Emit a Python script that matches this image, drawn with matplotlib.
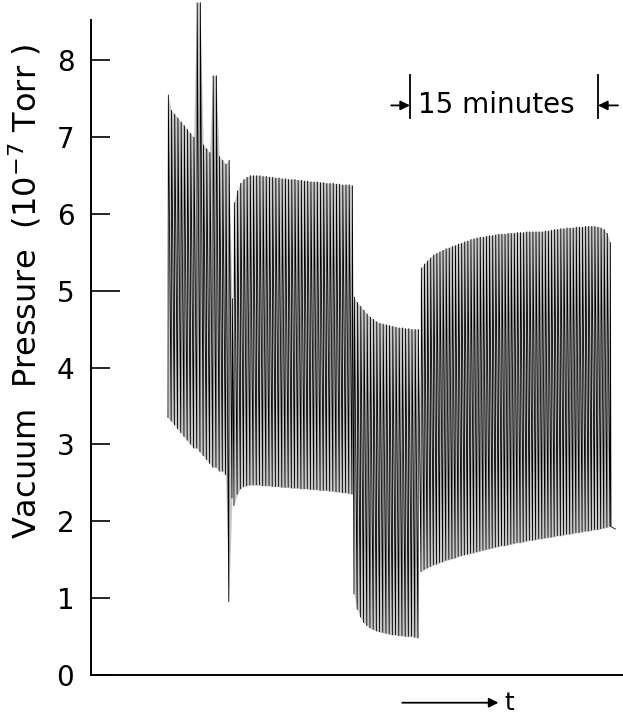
import numpy as np
import matplotlib
matplotlib.use("Agg")
import matplotlib.pyplot as plt

# ---- data (minutes on x, 1e-7 Torr on y) ----
seg_bounds = [(6.16, 11.28), (11.44, 20.88), (21.04, 26.16), (26.40, 41.52)]

high1 = [7.55, 7.35, 7.30, 7.25, 7.20, 7.15, 7.10, 7.05, 7.00, 8.75, 8.75,
         6.90, 6.85, 6.80, 7.80, 7.80, 6.75, 6.70, 6.65, 6.70, 4.90]
low1 = [3.35, 3.30, 3.25, 3.20, 3.15, 3.10, 3.05, 3.00, 2.95, 2.95, 2.90,
        2.85, 2.80, 2.75, 2.70, 2.70, 2.65, 2.65, 2.60, 0.95, 2.30]

high2 = [6.15, 6.30, 6.40, 6.45, 6.48, 6.50, 6.50, 6.50, 6.50, 6.49,
         6.49, 6.48, 6.48, 6.47, 6.47, 6.46, 6.46, 6.45, 6.45, 6.45,
         6.44, 6.44, 6.43, 6.43, 6.42, 6.42, 6.42, 6.41, 6.41, 6.40,
         6.40, 6.40, 6.39, 6.39, 6.38, 6.38, 6.38, 6.37]
low2 = [2.20, 2.35, 2.42, 2.45, 2.46, 2.47, 2.47, 2.47, 2.47, 2.46,
        2.46, 2.46, 2.45, 2.45, 2.45, 2.44, 2.44, 2.44, 2.43, 2.43,
        2.43, 2.42, 2.42, 2.42, 2.41, 2.41, 2.41, 2.40, 2.40, 2.40,
        2.39, 2.39, 2.38, 2.38, 2.37, 2.37, 2.36, 2.35]

high3 = [4.92, 4.85, 4.80, 4.75, 4.70, 4.66, 4.63, 4.60, 4.58, 4.57, 4.56,
         4.55, 4.54, 4.53, 4.52, 4.52, 4.51, 4.51, 4.50, 4.50, 4.50]
low3 = [1.05, 0.85, 0.75, 0.68, 0.64, 0.61, 0.59, 0.57, 0.56, 0.55, 0.54,
        0.53, 0.52, 0.52, 0.51, 0.51, 0.50, 0.50, 0.50, 0.49, 0.48]

high4 = [5.30, 5.35, 5.39, 5.43, 5.47, 5.49, 5.51, 5.53, 5.55, 5.56,
         5.58, 5.59, 5.61, 5.62, 5.64, 5.65, 5.67, 5.68, 5.69, 5.70,
         5.70, 5.71, 5.72, 5.72, 5.73, 5.74, 5.74, 5.74, 5.75, 5.75,
         5.75, 5.76, 5.76, 5.76, 5.77, 5.77, 5.77, 5.77, 5.77, 5.77,
         5.78, 5.78, 5.79, 5.80, 5.80, 5.81, 5.81, 5.82, 5.82, 5.82,
         5.83, 5.83, 5.83, 5.84, 5.84, 5.84, 5.84, 5.83, 5.82, 5.80,
         5.75, 5.63]
low4 = [1.34, 1.37, 1.39, 1.41, 1.43, 1.44, 1.46, 1.47, 1.49, 1.50,
        1.51, 1.52, 1.54, 1.55, 1.56, 1.57, 1.58, 1.59, 1.60, 1.61,
        1.62, 1.63, 1.64, 1.65, 1.66, 1.67, 1.68, 1.68, 1.69, 1.70,
        1.71, 1.72, 1.72, 1.73, 1.74, 1.75, 1.75, 1.76, 1.77, 1.77,
        1.78, 1.79, 1.79, 1.80, 1.81, 1.81, 1.82, 1.83, 1.83, 1.84,
        1.85, 1.85, 1.86, 1.87, 1.87, 1.88, 1.89, 1.89, 1.90, 1.91,
        1.92, 1.93]

tail_t = [41.60, 41.95]
tail_v = [1.93, 1.90]

yticks = [0, 1, 2, 3, 4, 5, 6, 7, 8]
ylabel = "Vacuum  Pressure  (10$^{-7}$ Torr )"
scale_label = "15 minutes"
scale_span = (25.52, 40.56)

highs = [high1, high2, high3, high4]
lows = [low1, low2, low3, low4]

# ---- figure ----
plt.rcParams['font.family'] = ['DejaVu Sans']
fig = plt.figure(figsize=(6.23, 7.15), dpi=100)
ax = fig.add_axes([0.146, 0.0559, 0.854, 0.916])

xs, ys = [], []
for (t0, t1), hi, lo in zip(seg_bounds, highs, lows):
    t = np.linspace(t0, t1, len(hi))
    per = (t1 - t0) / (len(hi) - 1)
    ax.fill_between(t, lo, hi, color='#c8c8c8', lw=0, clip_on=False)
    for ti, h, l in zip(t, hi, lo):
        xs += [ti, ti + 0.12 * per]
        ys += [l, h]
xs += tail_t
ys += tail_v
ax.plot(xs, ys, color='black', lw=0.6, clip_on=False, solid_joinstyle='miter')

ax.set_xlim(0, 42.56)
ax.set_ylim(0, 8.52)
ax.set_xticks([])
ax.set_yticks(yticks)
ax.set_yticklabels([str(v) for v in yticks], fontsize=20)
ax.tick_params(axis='y', direction='in', length=14, width=1.2, pad=12)
ax.yaxis.get_major_ticks()[5].tick1line.set_markersize(21)
for s in ['top', 'right']:
    ax.spines[s].set_visible(False)
for s in ['left', 'bottom']:
    ax.spines[s].set_linewidth(1.4)
ax.set_ylabel(ylabel, fontsize=23)
ax.yaxis.set_label_coords(-0.09, 0.585)

# 15 minutes scale bar
for xb in scale_span:
    ax.plot([xb, xb], [7.24, 7.80], color='black', lw=1.3, clip_on=False)
ax.annotate('', xy=(scale_span[0], 7.41), xytext=(scale_span[0] - 1.5, 7.41),
            arrowprops=dict(arrowstyle='-|>', color='black', lw=1.3,
                            mutation_scale=14, shrinkA=0, shrinkB=0),
            annotation_clip=False)
ax.annotate('', xy=(scale_span[1], 7.41), xytext=(scale_span[1] + 1.6, 7.41),
            arrowprops=dict(arrowstyle='-|>', color='black', lw=1.3,
                            mutation_scale=14, shrinkA=0, shrinkB=0),
            annotation_clip=False)
ax.text((scale_span[0] + scale_span[1]) / 2 - 0.6, 7.41, scale_label,
        fontsize=20, ha='center', va='center')

# time arrow
ax.annotate('', xy=(32.6, -0.36), xytext=(24.9, -0.36),
            arrowprops=dict(arrowstyle='-|>', color='black', lw=1.3,
                            mutation_scale=14, shrinkA=0, shrinkB=0),
            annotation_clip=False)
ax.text(33.1, -0.36, 't', fontsize=18, ha='left', va='center', clip_on=False)

fig.savefig('out.png', dpi=100)
